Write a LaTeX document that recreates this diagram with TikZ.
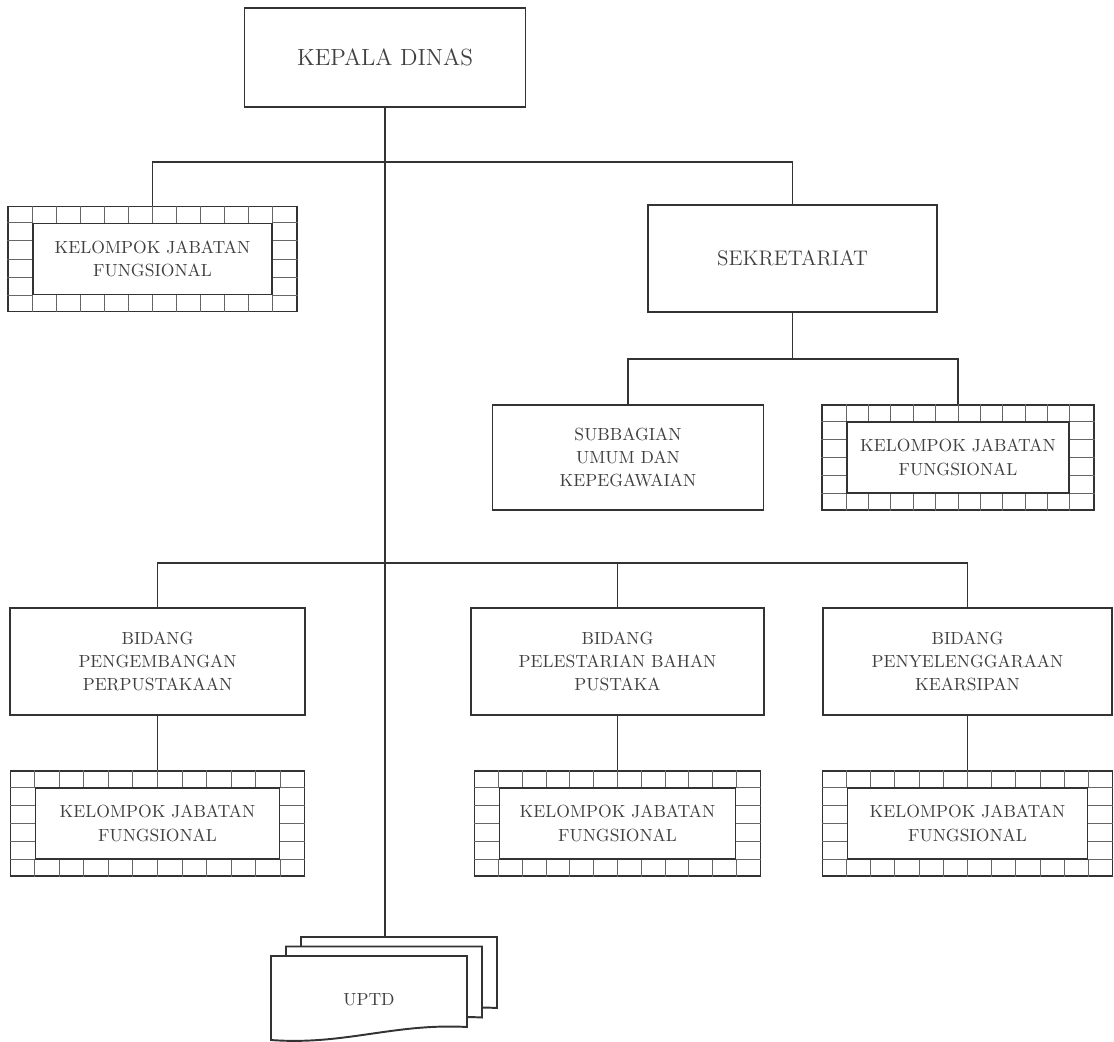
\documentclass[tikz,border=0pt]{standalone}
\usepackage{tikz}
\usetikzlibrary{calc,positioning}
\tikzset{
  every picture/.append style={line width=1.1pt},
  every node/.append style={font=\fontsize{10}{13.3}\selectfont},
}
\tikzset{
  box/.style={draw=black!80, fill=white, align=center, text=black!75},
  brick/.style={draw=black!60, line width=0.55pt},
  sheet/.style={draw=black!80, fill=white},
  link/.style={draw=black!80}
}
% brick-framed box: name, centre, inner width (cm)
\newcommand{\kjfbox}[3]{%
  \node[box, minimum width=#3cm+1cm, minimum height=2.10cm] (#1) at #2 {};
  \node[box, minimum width=#3cm, minimum height=1.42cm] (#1-in) at #2 {KELOMPOK JABATAN\\FUNGSIONAL};
  \foreach \i in {0,...,10} {
    \draw[brick] ($(#1-in.north west)!\i/10!(#1-in.north east)$) -- ++(0,0.34);
    \draw[brick] ($(#1-in.south west)!\i/10!(#1-in.south east)$) -- ++(0,-0.34);
  }
  \foreach \j in {0,...,4} {
    \draw[brick] ($(#1-in.north west)!\j/4!(#1-in.south west)$) -- ++(-0.5,0);
    \draw[brick] ($(#1-in.north east)!\j/4!(#1-in.south east)$) -- ++(0.5,0);
  }
}

\begin{document}
\begin{tikzpicture}[
  big/.style={font=\fontsize{13.3}{16}\selectfont},
  mid/.style={font=\fontsize{12}{15}\selectfont},
  unit/.style={box, minimum width=5.8cm, minimum height=2.14cm}
]
\useasboundingbox (0,0) rectangle (22.28,-20.84);

% ============= Top =============
\node[box, big, minimum width=5.62cm, minimum height=1.98cm] (kepala) at (7.70,-1.15) {KEPALA DINAS};

\kjfbox{kjfa}{(3.05,-5.18)}{4.78}

\node[unit, mid, minimum width=5.78cm] (sek) at (15.85,-5.17) {SEKRETARIAT};

% ============= Sekretariat =============
\node[box, minimum width=5.42cm, minimum height=2.10cm] (sub) at (12.56,-9.15) {SUBBAGIAN\\UMUM DAN\\KEPEGAWAIAN};
\kjfbox{kjfb}{(19.16,-9.15)}{4.44}

% ============= Bidang =============
\node[unit, minimum width=5.90cm] (bida) at (3.15,-13.23) {BIDANG\\PENGEMBANGAN\\PERPUSTAKAAN};
\node[unit, minimum width=5.86cm] (bidb) at (12.35,-13.23) {BIDANG\\PELESTARIAN BAHAN\\PUSTAKA};
\node[unit, minimum width=5.78cm] (bidc) at (19.35,-13.23) {BIDANG\\PENYELENGGARAAN\\KEARSIPAN};

\kjfbox{kjfc}{(3.15,-16.47)}{4.88}
\kjfbox{kjfd}{(12.35,-16.47)}{4.72}
\kjfbox{kjfe}{(19.35,-16.47)}{4.80}

% ============= UPTD =============
\begin{scope}[shift={(7.38,-19.96)}]
  \foreach \d in {2,1,0}
    \draw[sheet, shift={(0.3*\d,0.19*\d)}] (-1.96,0.84) -- (1.96,0.84) -- (1.96,-0.58)
      .. controls (0.5,-0.5) and (-0.5,-0.95) .. (-1.96,-0.84) -- cycle;
\end{scope}
\node[text=black!75] (uptd) at (7.38,-20.0) {UPTD};
\coordinate (uptdtop) at (7.70,-18.74);

% ============= Lines =============
\coordinate (jna) at (7.70,-3.24);
\coordinate (jnb) at (15.85,-7.18);
\coordinate (jnc) at (7.70,-11.26);

\draw[link] (kepala.south) -- (uptdtop);
\draw[link] (kjfa.north) |- (jna) -| (sek.north);
\draw[link] (sek.south) -- (jnb);
\draw[link] (sub.north) |- (jnb) -| (kjfb.north);
\draw[link] (bida.north) |- (jnc) -| (bidc.north);
\draw[link] (bidb.north) -- (bidb.north |- jnc);
\draw[link] (bida.south) -- (kjfc.north);
\draw[link] (bidb.south) -- (kjfd.north);
\draw[link] (bidc.south) -- (kjfe.north);

\end{tikzpicture}
\end{document}
